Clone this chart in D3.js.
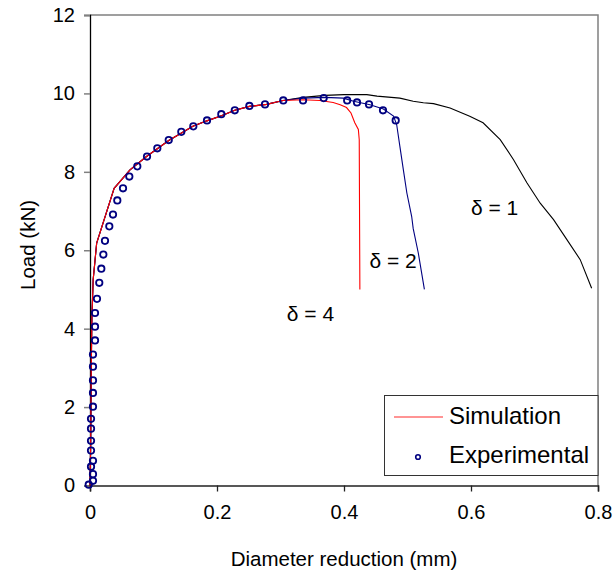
<!DOCTYPE html>
<html>
<head>
<meta charset="utf-8">
<script src="https://cdn.jsdelivr.net/npm/d3@7"></script>
<style>
  html, body { margin: 0; padding: 0; background: #fff; }
  svg { display: block; font-family: "Liberation Sans", Arial, sans-serif; }
</style>
</head>
<body>
<svg id="chart" width="615" height="576"></svg>
<script>
// ---- data ----
const xTicks = [0, 0.2, 0.4, 0.6, 0.8];
const xTickLabels = ["0", "0.2", "0.4", "0.6", "0.8"];
const yTicks = [0, 2, 4, 6, 8, 10, 12];
const yTickLabels = ["0", "2", "4", "6", "8", "10", "12"];

// common rising part of all simulations [diameter reduction, load]
const simRise = [[0,0],[0.001,1],[0.002,3],[0.003,4.3],[0.005,5.25],[0.0105,6.18],[0.038,7.58],[0.063,8.05],[0.089,8.39],
  [0.124,8.8],[0.162,9.16],[0.184,9.3],[0.207,9.43],[0.228,9.57],[0.251,9.67],[0.278,9.72],[0.304,9.82]];
// tails for each delta
const simTail1 = [[0.336,9.9],[0.37,9.95],[0.40,9.97],[0.436,9.97],[0.452,9.93],[0.488,9.88],[0.509,9.8],[0.525,9.76],
  [0.541,9.74],[0.567,9.63],[0.598,9.42],[0.619,9.25],[0.646,8.82],[0.667,8.31],[0.688,7.72],[0.709,7.2],[0.73,6.78],
  [0.751,6.27],[0.772,5.76],[0.79,5.03]];
const simTail2 = [[0.336,9.88],[0.37,9.9],[0.399,9.88],[0.415,9.8],[0.441,9.71],[0.462,9.6],[0.478,9.42],[0.483,9.2],
  [0.488,8.65],[0.4935,8.05],[0.499,7.46],[0.5066,6.86],[0.509,6.55],[0.517,5.93],[0.5266,5.0]];
const simTail4 = [[0.336,9.84],[0.362,9.82],[0.383,9.77],[0.394,9.71],[0.404,9.64],[0.411,9.5],[0.417,9.25],[0.4226,9.08],
  [0.424,8.82],[0.425,5.0]];

const expX = [-0.002,0.0047,0.0047,0.0016,0.0047,0.0016,0.0016,0.0016,0.0016,0.0047,0.0047,0.0047,0.0047,0.0047,0.0079,
  0.0079,0.0079,0.011,0.0146,0.0178,0.021,0.0236,0.0304,0.0362,0.043,0.052,0.0619,0.0745,0.0898,0.106,0.124,0.1438,
  0.1627,0.1843,0.2068,0.228,0.251,0.2756,0.3044,0.3355,0.368,0.405,0.4205,0.4394,0.4614,0.4814];
const expY = [0.02,0.12,0.29,0.48,0.63,0.89,1.14,1.45,1.70,2.01,2.36,2.68,3.03,3.34,3.70,4.05,4.40,4.76,5.17,5.53,5.89,
  6.24,6.61,6.91,7.27,7.58,7.88,8.14,8.39,8.60,8.81,9.02,9.16,9.31,9.47,9.57,9.68,9.72,9.82,9.82,9.88,9.82,9.77,9.72,
  9.57,9.31];

const deltaLabels = ["δ = 1", "δ = 2", "δ = 4"];
const deltaLabelPos = [[0.60, 6.9], [0.44, 5.55], [0.31, 4.2]];

// ---- drawing ----
const svg = d3.select("#chart");
const x = d3.scaleLinear().domain([0, 0.8]).range([90, 598]);
const y = d3.scaleLinear().domain([0, 12]).range([485.5, 15]);

// plot border (top/right gray)
svg.append("path")
  .attr("d", `M${x(0)},${y(12)}H${x(0.8)}V${y(0)}`)
  .attr("fill", "none").attr("stroke", "#808080").attr("stroke-width", 1.5);

// axes
const yAxis = d3.axisLeft(y).tickValues(yTicks).tickFormat((d, i) => yTickLabels[i]).tickSize(6).tickPadding(9);
const gy = svg.append("g").attr("transform", `translate(${x(0)},0)`).call(yAxis);
gy.select(".domain").attr("stroke", "#000").attr("stroke-width", 1.3);
gy.selectAll(".tick line").attr("stroke", "#808080").attr("stroke-width", 1.5);
gy.selectAll(".tick text").attr("font-size", 20).attr("fill", "#000")
  .attr("font-family", "Liberation Sans, Arial, sans-serif");

const xAxis = d3.axisBottom(x).tickValues(xTicks).tickFormat((d, i) => xTickLabels[i]).tickSize(6).tickPadding(13);
const gx = svg.append("g").attr("transform", `translate(0,${y(0)})`).call(xAxis);
gx.select(".domain").attr("stroke", "#222").attr("stroke-width", 1.5);
gx.selectAll(".tick line").attr("stroke", "#222").attr("stroke-width", 1.3);
gx.selectAll(".tick text").attr("font-size", 20).attr("fill", "#000")
  .attr("font-family", "Liberation Sans, Arial, sans-serif");

// axis titles
svg.append("text").attr("x", 344).attr("y", 566).attr("text-anchor", "middle")
  .attr("font-size", 20.5).text("Diameter reduction (mm)");
svg.append("text").attr("transform", `translate(35,245) rotate(-90)`).attr("text-anchor", "middle")
  .attr("font-size", 20.5).text("Load (kN)");

// lines
const line = d3.line().x(d => x(d[0])).y(d => y(d[1]));
const sims = [
  {data: simRise.concat(simTail1), color: "#000000"},
  {data: simRise.concat(simTail2), color: "#000080"},
  {data: simRise.concat(simTail4), color: "#ff0000"}
];
svg.selectAll("path.sim").data(sims).join("path").attr("class", "sim")
  .attr("d", d => line(d.data)).attr("fill", "none")
  .attr("stroke", d => d.color).attr("stroke-width", 1.1);

// experimental points
svg.selectAll("circle.exp").data(expX.map((v, i) => [v, expY[i]])).join("circle").attr("class", "exp")
  .attr("cx", d => x(d[0])).attr("cy", d => y(d[1])).attr("r", 3.2)
  .attr("fill", "none").attr("stroke", "#000080").attr("stroke-width", 1.8);

// delta labels
svg.selectAll("text.delta").data(deltaLabels).join("text").attr("class", "delta")
  .attr("x", (d, i) => x(deltaLabelPos[i][0])).attr("y", (d, i) => y(deltaLabelPos[i][1]))
  .attr("font-size", 21).text(d => d);

// legend
const lg = svg.append("g");
lg.append("rect").attr("x", 384.5).attr("y", 395.5).attr("width", 213.5).attr("height", 80)
  .attr("fill", "#fff").attr("stroke", "#333").attr("stroke-width", 1);
lg.append("line").attr("x1", 394).attr("x2", 443).attr("y1", 417).attr("y2", 417)
  .attr("stroke", "#ff7070").attr("stroke-width", 1.5);
lg.append("text").attr("x", 449).attr("y", 424).attr("font-size", 24).text("Simulation");
lg.append("circle").attr("cx", 418).attr("cy", 457).attr("r", 2.3)
  .attr("fill", "none").attr("stroke", "#000080").attr("stroke-width", 1.6);
lg.append("text").attr("x", 449).attr("y", 463).attr("font-size", 24).text("Experimental");
</script>
</body>
</html>
